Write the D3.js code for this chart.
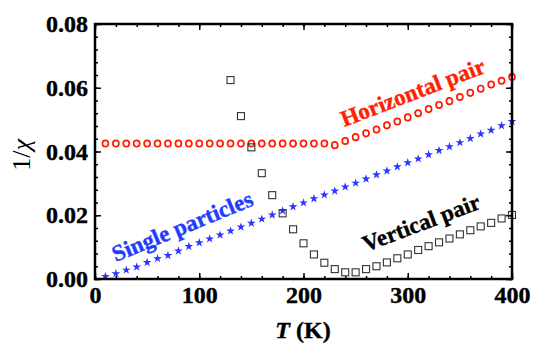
<!DOCTYPE html>
<html>
<head>
<meta charset="utf-8">
<script src="https://cdn.jsdelivr.net/npm/d3@7"></script>
<style>
    body { margin: 0; background: #fff; }
    svg { display: block; }
    text { font-family: "Liberation Serif", "Tinos", "Times New Roman", serif; }
</style>
</head>
<body>
<div id="chart"></div>
<script>
// temperaturas (K)
const temps = d3.range(10, 401, 10);

// 1/chi - particulas isoladas (estrelas azuis)
const singleVals = [0.0008, 0.0017, 0.0028, 0.0038, 0.0052, 0.0064, 0.0074, 0.0088, 0.0102, 0.0114,
    0.0126, 0.0138, 0.0151, 0.0163, 0.0175, 0.0188, 0.0201, 0.0214, 0.0227, 0.0239,
    0.0252, 0.0264, 0.0276, 0.0289, 0.0301, 0.0314, 0.0327, 0.0339, 0.0352, 0.0365,
    0.0377, 0.0390, 0.0403, 0.0415, 0.0428, 0.0441, 0.0455, 0.0467, 0.0481, 0.0494];

// par horizontal (circulos vermelhos)
const horizVals = [0.0425, 0.0425, 0.0425, 0.0425, 0.0425, 0.0425, 0.0425, 0.0425, 0.0425, 0.0425,
    0.0425, 0.0425, 0.0425, 0.0425, 0.0425, 0.0425, 0.0425, 0.0425, 0.0425, 0.0425,
    0.0425, 0.0425, 0.0420, 0.0433, 0.0445, 0.0457, 0.0469, 0.0482, 0.0494, 0.0507,
    0.0520, 0.0533, 0.0546, 0.0558, 0.0571, 0.0584, 0.0597, 0.0610, 0.0622, 0.0634];

// par vertical (quadrados pretos), comeca em 130 K
const vertTemps = d3.range(130, 401, 10);
const vertVals = [0.0624, 0.0511, 0.0413, 0.0332, 0.0263, 0.0206, 0.0156, 0.0112, 0.0077, 0.0051,
    0.0031, 0.0021, 0.0021, 0.0031, 0.0040, 0.0052, 0.0065, 0.0077, 0.0091, 0.0103,
    0.0115, 0.0127, 0.0140, 0.0153, 0.0165, 0.0176, 0.0190, 0.0201];

const xTicks = [0, 100, 200, 300, 400];
const yTicks = [0.00, 0.02, 0.04, 0.06, 0.08];

// rotulos das curvas: texto, posicao (T, 1/chi), angulo, cor
const curveLabels = [
    {text: "Horizontal pair", T: 239, v: 0.0477, angle: -21, color: "#ff2200"},
    {text: "Single particles", T: 20, v: 0.0053, angle: -22.4, color: "#1f3dff"},
    {text: "Vertical pair", T: 260, v: 0.0085, angle: -20.7, color: "#000"}
];

const config = {width: 538, height: 344, top: 24, right: 26, bottom: 65, left: 95};

const svg = d3.select("#chart").append("svg")
    .attr("width", config.width)
    .attr("height", config.height);

const x = d3.scaleLinear().domain([0, 400]).range([config.left, config.width - config.right]);
const y = d3.scaleLinear().domain([0, 0.08]).range([config.height - config.bottom, config.top]);

const x0 = config.left, x1 = config.width - config.right;
const y0 = config.height - config.bottom, y1 = config.top;

// eixo com ticks para dentro (tickSize negativo)
function axis(gen, tr, values, size, fmt) {
    const g = svg.append("g").attr("transform", tr)
        .call(gen.tickValues(values).tickSize(-size).tickPadding(7).tickFormat(fmt));
    g.attr("font-family", null);
    g.select(".domain").remove();
    g.selectAll(".tick line").attr("stroke", "#000").attr("stroke-width", 1.5);
    g.selectAll(".tick text")
        .attr("font-size", 24)
        .attr("font-weight", "bold")
        .attr("fill", "#000")
        .attr("stroke", "#000")
        .attr("stroke-width", 0.4);
    return g;
}

const none = () => "";
// menores
axis(d3.axisBottom(x), `translate(0,${y0})`, d3.range(0, 401, 20), 3, none);
axis(d3.axisTop(x), `translate(0,${y1})`, d3.range(0, 401, 20), 3, none);
axis(d3.axisLeft(y), `translate(${x0},0)`, d3.range(0, 0.0801, 0.004), 3, none);
axis(d3.axisRight(y), `translate(${x1},0)`, d3.range(0, 0.0801, 0.004), 3, none);
// maiores
axis(d3.axisBottom(x), `translate(0,${y0})`, xTicks, 6, d3.format("d"));
axis(d3.axisTop(x), `translate(0,${y1})`, xTicks, 6, none);
axis(d3.axisLeft(y), `translate(${x0},0)`, yTicks, 6, d3.format(".2f"));
axis(d3.axisRight(y), `translate(${x1},0)`, yTicks, 6, none);

const plot = svg.append("g");

// estrelas
plot.selectAll("path.single")
    .data(temps.map((t, i) => ({t: t, v: singleVals[i]})))
    .enter().append("path")
    .attr("class", "single")
    .attr("d", d3.symbol(d3.symbolStar, 24))
    .attr("transform", d => `translate(${x(d.t)},${y(d.v)})`)
    .attr("fill", "#2a35ff");

// circulos
plot.selectAll("ellipse.horiz")
    .data(temps.map((t, i) => ({t: t, v: horizVals[i]})))
    .enter().append("ellipse")
    .attr("class", "horiz")
    .attr("cx", d => x(d.t))
    .attr("cy", d => y(d.v))
    .attr("rx", 3)
    .attr("ry", 3.2)
    .attr("fill", "none")
    .attr("stroke", "#ff1a00")
    .attr("stroke-width", 1.7);

// quadrados
plot.selectAll("rect.vert")
    .data(vertTemps.map((t, i) => ({t: t, v: vertVals[i]})))
    .enter().append("rect")
    .attr("class", "vert")
    .attr("x", d => x(d.t) - 3.5)
    .attr("y", d => y(d.v) - 3.5)
    .attr("width", 7)
    .attr("height", 7)
    .attr("fill", "none")
    .attr("stroke", "#333")
    .attr("stroke-width", 1.1);

// moldura
svg.append("rect")
    .attr("x", x0).attr("y", y1)
    .attr("width", x1 - x0).attr("height", y0 - y1)
    .attr("fill", "none")
    .attr("stroke", "#000")
    .attr("stroke-width", 2.5);

// rotulos das curvas
svg.selectAll("text.curve")
    .data(curveLabels)
    .enter().append("text")
    .attr("class", "curve")
    .attr("transform", d => `translate(${x(d.T)},${y(d.v)}) rotate(${d.angle})`)
    .attr("font-weight", "bold")
    .attr("font-size", 23)
    .attr("fill", d => d.color)
    .attr("stroke", d => d.color)
    .attr("stroke-width", 0.4)
    .text(d => d.text);

// titulos dos eixos
const xTitle = svg.append("text")
    .attr("x", 303)
    .attr("y", 338)
    .attr("text-anchor", "middle")
    .attr("font-weight", "bold")
    .attr("font-size", 24)
    .attr("stroke", "#000")
    .attr("stroke-width", 0.4);
xTitle.append("tspan").attr("font-style", "italic").text("T");
xTitle.append("tspan").text(" (K)");

const yTitle = svg.append("text")
    .attr("transform", "translate(30,155) rotate(-90)")
    .attr("text-anchor", "middle")
    .attr("font-size", 26);
yTitle.append("tspan").text("1/");
yTitle.append("tspan").attr("font-style", "italic").text("χ");
</script>
</body>
</html>
